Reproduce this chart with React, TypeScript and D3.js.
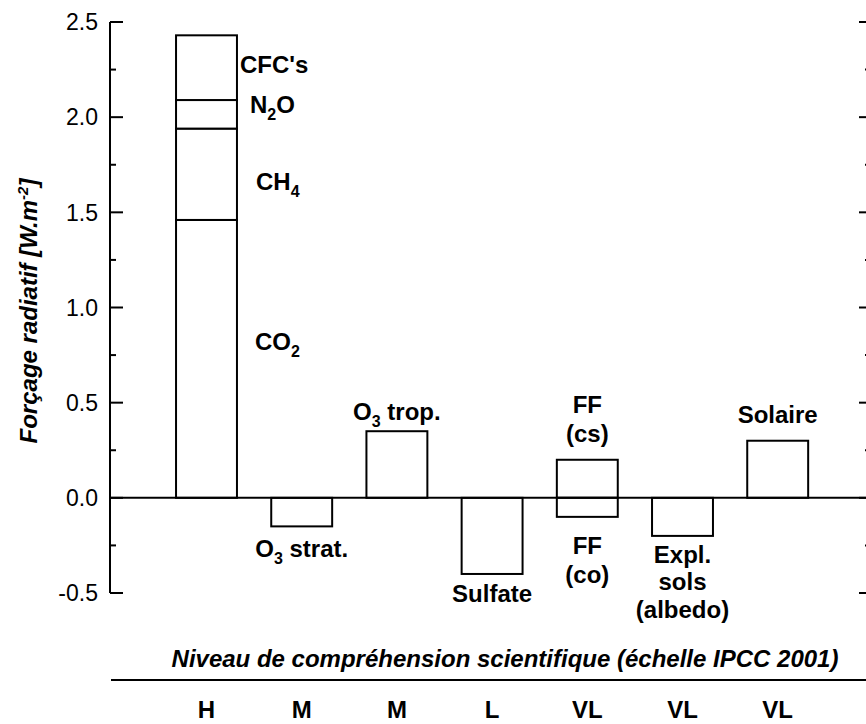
import React from "react";
import * as d3 from "d3";

// ---- data ----
const categories = ["GHG", "O3strat", "O3trop", "Sulfate", "FF", "Albedo", "Solar"];
const ghgGases = ["CO2", "CH4", "N2O", "CFC"];
const ghgValues = [1.46, 0.48, 0.15, 0.34];
const positiveValues = [0, 0, 0.35, 0, 0.2, 0, 0.3];
const negativeValues = [0, -0.15, 0, -0.4, -0.1, -0.2, 0];
const understanding = ["H", "M", "M", "L", "VL", "VL", "VL"];
const yMajorTicks = [-0.5, 0, 0.5, 1.0, 1.5, 2.0, 2.5];
const yMinorTicks = [-0.25, 0.25, 0.75, 1.25, 1.75, 2.25];

const W = 866;
const H = 724;
const FONT = "'Liberation Sans', Arial, Helvetica, sans-serif";

type Seg = { t: string; sub?: boolean };

function Rich({ x, y, segs, anchor = "start", size = 24 }: { x: number; y: number; segs: Seg[]; anchor?: string; size?: number }) {
  let shifted = false;
  const parts: any[] = [];
  segs.forEach((s, i) => {
    if (s.sub) {
      parts.push(
        <tspan key={i} fontSize={16} dy={7}>
          {s.t}
        </tspan>
      );
      shifted = true;
    } else {
      parts.push(
        <tspan key={i} dy={shifted ? -7 : 0}>
          {s.t}
        </tspan>
      );
      shifted = false;
    }
  });
  return (
    <text x={x} y={y} textAnchor={anchor as any} fontSize={size} fontWeight="bold" fontFamily={FONT} fill="#000">
      {parts}
    </text>
  );
}

export default function App() {
  const yScale = d3.scaleLinear().domain([-0.5, 2.5]).range([593, 22]);
  const xBand = d3
    .scaleBand<string>()
    .domain(categories)
    .range([158.9, 825.3])
    .paddingInner(0.36)
    .paddingOuter(0.18);
  const bw = xBand.bandwidth();
  const cx = (c: string) => (xBand(c) as number) + bw / 2;
  const fmt = (t: number) => d3.format(".1f")(t).replace("\u2212", "-");

  const stackRow: any = {};
  ghgGases.forEach((g, i) => (stackRow[g] = ghgValues[i]));
  const stacked = d3.stack().keys(ghgGases)([stackRow]);

  const axisLeft = 110;
  const axisRight = 871;
  const y0 = yScale(0);

  const ghgRight = (xBand("GHG") as number) + bw;
  const ghgLabels: { segs: Seg[]; dx: number; v: number }[] = [
    { segs: [{ t: "CFC's" }], dx: 3, v: 2.232 },
    { segs: [{ t: "N" }, { t: "2", sub: true }, { t: "O" }], dx: 13, v: 2.022 },
    { segs: [{ t: "CH" }, { t: "4", sub: true }], dx: 19, v: 1.617 },
    { segs: [{ t: "CO" }, { t: "2", sub: true }], dx: 18, v: 0.777 },
  ];

  const barLabels: { cat: string; lines: Seg[][]; base: number; off: number[] }[] = [
    { cat: "O3trop", lines: [[{ t: "O" }, { t: "3", sub: true }, { t: " trop." }]], base: 0.35, off: [-11] },
    { cat: "FF", lines: [[{ t: "FF" }], [{ t: "(cs)" }]], base: 0.2, off: [-47, -18] },
    { cat: "Solar", lines: [[{ t: "Solaire" }]], base: 0.3, off: [-18] },
    { cat: "O3strat", lines: [[{ t: "O" }, { t: "3", sub: true }, { t: " strat." }]], base: -0.15, off: [31] },
    { cat: "Sulfate", lines: [[{ t: "Sulfate" }]], base: -0.4, off: [28] },
    { cat: "FF", lines: [[{ t: "FF" }], [{ t: "(co)" }]], base: -0.1, off: [37, 66] },
    { cat: "Albedo", lines: [[{ t: "Expl." }], [{ t: "sols" }], [{ t: "(albedo)" }]], base: -0.2, off: [27, 54, 82] },
  ];

  return (
    <svg
      width={W}
      height={H}
      viewBox={`0 0 ${W} ${H}`}
      style={{ position: "absolute", left: 0, top: 0, background: "#fff", display: "block" }}
    >
      <rect x={0} y={0} width={W} height={H} fill="#fff" />

      {/* left axis */}
      <line x1={axisLeft} x2={axisLeft} y1={yScale(2.5)} y2={yScale(-0.5)} stroke="#000" strokeWidth={2} />
      {yMajorTicks.map((t) => (
        <g key={"mj" + t}>
          <line x1={axisLeft} x2={axisLeft + 13} y1={yScale(t)} y2={yScale(t)} stroke="#000" strokeWidth={2} />
          <line x1={axisRight - 12} x2={axisRight} y1={yScale(t)} y2={yScale(t)} stroke="#000" strokeWidth={2} />
          <text
            x={98}
            y={yScale(t)}
            dy="0.36em"
            textAnchor="end"
            fontSize={23}
            fontFamily={FONT}
            fill="#000"
          >
            {fmt(t)}
          </text>
        </g>
      ))}
      {yMinorTicks.map((t) => (
        <g key={"mn" + t}>
          <line x1={axisLeft} x2={axisLeft + 6} y1={yScale(t)} y2={yScale(t)} stroke="#000" strokeWidth={2} />
          <line x1={axisRight - 6} x2={axisRight} y1={yScale(t)} y2={yScale(t)} stroke="#000" strokeWidth={2} />
        </g>
      ))}
      <line x1={axisRight} x2={axisRight} y1={yScale(2.5)} y2={yScale(-0.5)} stroke="#000" strokeWidth={2} />

      {/* y title */}
      <text
        transform={`translate(37,311) rotate(-90)`}
        textAnchor="middle"
        fontSize={24}
        fontWeight="bold"
        fontStyle="italic"
        fontFamily={FONT}
        fill="#000"
      >
        <tspan>Forçage radiatif [W.m</tspan>
        <tspan fontSize={15} dy={-9}>
          -2
        </tspan>
        <tspan dy={9}>]</tspan>
      </text>

      {/* stacked GHG bar */}
      {stacked.map((layer) => (
        <rect
          key={layer.key}
          x={xBand("GHG")}
          width={bw}
          y={yScale(layer[0][1])}
          height={yScale(layer[0][0]) - yScale(layer[0][1])}
          fill="#fff"
          stroke="#000"
          strokeWidth={2}
        />
      ))}

      {/* other bars */}
      {categories.map((c, i) =>
        i === 0 ? null : (
          <g key={c}>
            {positiveValues[i] !== 0 && (
              <rect
                x={xBand(c)}
                width={bw}
                y={yScale(positiveValues[i])}
                height={y0 - yScale(positiveValues[i])}
                fill="#fff"
                stroke="#000"
                strokeWidth={2}
              />
            )}
            {negativeValues[i] !== 0 && (
              <rect
                x={xBand(c)}
                width={bw}
                y={y0}
                height={yScale(negativeValues[i]) - y0}
                fill="#fff"
                stroke="#000"
                strokeWidth={2}
              />
            )}
          </g>
        )
      )}

      {/* zero line */}
      <line x1={axisLeft} x2={axisRight} y1={y0} y2={y0} stroke="#000" strokeWidth={2} />

      {/* labels */}
      {ghgLabels.map((l, i) => (
        <Rich key={"g" + i} x={ghgRight + l.dx} y={yScale(l.v)} segs={l.segs} />
      ))}
      {barLabels.map((b, i) =>
        b.lines.map((ln, j) => (
          <Rich key={"b" + i + "_" + j} x={cx(b.cat)} y={yScale(b.base) + b.off[j]} segs={ln} anchor="middle" />
        ))
      )}

      {/* understanding */}
      <text
        x={505}
        y={667}
        textAnchor="middle"
        fontSize={24}
        fontWeight="bold"
        fontStyle="italic"
        fontFamily={FONT}
        fill="#000"
      >
        Niveau de compréhension scientifique (échelle IPCC 2001)
      </text>
      <line x1={111} x2={W} y1={680} y2={680} stroke="#000" strokeWidth={2} />
      {categories.map((c, i) => (
        <text
          key={"u" + c}
          x={cx(c)}
          y={718}
          textAnchor="middle"
          fontSize={24}
          fontWeight="bold"
          fontFamily={FONT}
          fill="#000"
        >
          {understanding[i]}
        </text>
      ))}
    </svg>
  );
}
